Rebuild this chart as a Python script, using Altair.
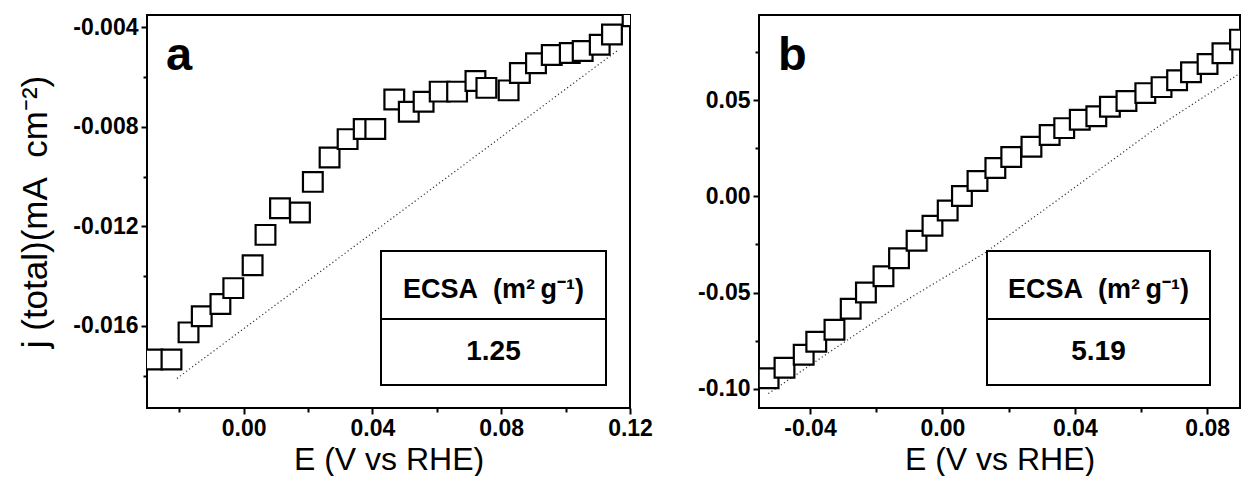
import altair as alt
import pandas as pd

# ---------------- Panel a data ----------------
a_E = [-0.0283, -0.0224, -0.0171, -0.0130, -0.0072, -0.0032, 0.0028, 0.0068,
       0.0113, 0.0175, 0.0215, 0.0267, 0.0323, 0.0373, 0.0409, 0.0468,
       0.0513, 0.0559, 0.0609, 0.0663, 0.0720, 0.0754, 0.0823, 0.0858,
       0.0908, 0.0957, 0.1013, 0.1053, 0.1106, 0.1144, 0.1208]
a_j = [-0.01735, -0.01735, -0.01626, -0.01561, -0.01512, -0.01448, -0.01356, -0.01234,
       -0.01127, -0.01144, -0.01021, -0.00923, -0.00849, -0.00808, -0.00808, -0.00690,
       -0.00739, -0.00699, -0.00658, -0.00658, -0.00615, -0.00643, -0.00653, -0.00583,
       -0.00544, -0.00511, -0.00503, -0.00495, -0.00470, -0.00428, -0.00355]
a_line_E = [-0.0207, 0.0456, 0.1163]
a_line_j = [-0.01811, -0.01172, -0.00491]
a_ecsa = "1.25"

# ---------------- Panel b data ----------------
b_E = [-0.0525, -0.0477, -0.0419, -0.0381, -0.0326, -0.0277, -0.0231, -0.0178,
       -0.0131, -0.0078, -0.0030, 0.0016, 0.0059, 0.0106, 0.0160, 0.0208,
       0.0269, 0.0324, 0.0368, 0.0415, 0.0465, 0.0506, 0.0556, 0.0613,
       0.0662, 0.0709, 0.0751, 0.0801, 0.0846, 0.0899]
b_j = [-0.0945, -0.0891, -0.0823, -0.0756, -0.0693, -0.0584, -0.0500, -0.0415,
       -0.0322, -0.0231, -0.0153, -0.0073, 0.0002, 0.0080, 0.0148, 0.0205,
       0.0258, 0.0319, 0.0355, 0.0398, 0.0417, 0.0466, 0.0496, 0.0537,
       0.0568, 0.0604, 0.0645, 0.0688, 0.0744, 0.0815]
b_line_E = [-0.0526, -0.0114, 0.0128, 0.0650, 0.0896]
b_line_j = [-0.1025, -0.0545, -0.0294, 0.0360, 0.0637]
b_ecsa = "5.19"

# ---------------- Axis ticks ----------------
a_x_ticks = [-0.02, 0.00, 0.02, 0.04, 0.06, 0.08, 0.10, 0.12]
a_y_ticks = [-0.018, -0.016, -0.014, -0.012, -0.010, -0.008, -0.006, -0.004]
b_x_ticks = [-0.04, -0.02, 0.00, 0.02, 0.04, 0.06, 0.08]
b_y_ticks = [-0.10, -0.075, -0.05, -0.025, 0.00, 0.025, 0.05, 0.075]

header_text = "ECSA\u00a0\u00a0(m\u00b2\u2009g\u207b\u00b9)"
x_title = "E (V vs RHE)"
y_title = "j (total)(mA\u00a0 cm\u207b\u00b2)"

FONT = "Liberation Sans"


def major_test(mult):
    return f"abs(datum.value*{mult} - round(datum.value*{mult})) < 1e-6"


def label_expr(mult, dec):
    return (f"{major_test(mult)} ? (datum.value < 0 ? '-' : '') + "
            f"format(abs(datum.value), '.{dec}f') : ''")


def make_axis(vals, mult, dec, title, title_pad, title_size):
    return alt.Axis(
        values=vals,
        labelExpr=label_expr(mult, dec),
        tickSize={"condition": {"test": major_test(mult), "value": 6}, "value": 4},
        tickWidth=2,
        tickColor="black",
        domain=False,
        grid=False,
        labelFont=FONT,
        labelFontSize=23,
        labelFontWeight="bold",
        labelColor="black",
        labelPadding=3,
        labelFlush=False,
        labelOverlap=False,
        title=title,
        titleFont=FONT,
        titleFontSize=title_size,
        titleFontWeight="normal",
        titleColor="black",
        titlePadding=title_pad,
    )


def panel(E, j, lE, lj, ecsa, letter, xdom, ydom, xt, yt, xm, ym, xd, yd,
          ytitle, width, height, box):
    pts = pd.DataFrame({"E": E, "j": j})
    ln = pd.DataFrame({"E": lE, "j": lj})
    ann = pd.DataFrame({"letter": [letter], "ecsa": [ecsa], "header": [header_text]})

    xs = alt.Scale(domain=xdom, nice=False, zero=False)
    ys = alt.Scale(domain=ydom, nice=False, zero=False)
    xenc = alt.X("E:Q", scale=xs, axis=make_axis(xt, xm, xd, x_title, 4, 32))
    yenc = alt.Y("j:Q", scale=ys, axis=make_axis(yt, ym, yd, ytitle, 19, 35))

    bx0, bx1, by0, by1, bdiv, bcx, hy, vy = box

    rect = alt.Chart(ann).mark_rect(fill="white", stroke="black", strokeWidth=2).encode(
        x=alt.value(bx0), x2=alt.value(bx1), y=alt.value(by0), y2=alt.value(by1))
    divider = alt.Chart(ann).mark_rule(stroke="black", strokeWidth=2).encode(
        x=alt.value(bx0), x2=alt.value(bx1), y=alt.value(bdiv))
    head = alt.Chart(ann).mark_text(font=FONT, fontSize=27, fontWeight="bold",
                                    align="center", baseline="middle", color="black").encode(
        x=alt.value(bcx), y=alt.value(hy), text="header:N")
    val = alt.Chart(ann).mark_text(font=FONT, fontSize=28, fontWeight="bold",
                                   align="center", baseline="middle", color="black").encode(
        x=alt.value(bcx), y=alt.value(vy), text="ecsa:N")
    lab = alt.Chart(ann).mark_text(font=FONT, fontSize=47, fontWeight="bold",
                                   align="left", baseline="alphabetic", color="black").encode(
        x=alt.value(19), y=alt.value(55), text="letter:N")

    line = alt.Chart(ln).mark_line(color="#333333", strokeWidth=1.2,
                                   strokeDash=[1.2, 2.6], clip=True).encode(x=xenc, y=yenc)
    sq = alt.Chart(pts).mark_point(shape="square", filled=True, fill="white",
                                   stroke="black", strokeWidth=2.2, size=390,
                                   opacity=1, clip=True).encode(x=xenc, y=yenc)

    return alt.layer(rect, divider, line, sq, head, val, lab).properties(
        width=width, height=height)


pa = panel(a_E, a_j, a_line_E, a_line_j, a_ecsa, "a",
           [-0.030, 0.120], [-0.0193, -0.0035], a_x_ticks, a_y_ticks, 25, 250, 2, 3,
           y_title, 483, 393,
           (234, 459, 236, 370, 304, 346.5, 275, 337))
pb = panel(b_E, b_j, b_line_E, b_line_j, b_ecsa, "b",
           [-0.0554, 0.0899], [-0.110, 0.0943], b_x_ticks, b_y_ticks, 25, 20, 2, 2,
           "", 481, 393,
           (228, 451, 236, 370, 304, 339.5, 275, 337))

chart = alt.hconcat(pa, pb, spacing=129, bounds="flush").properties(
    padding={"left": 17, "top": 14, "right": 0, "bottom": 0},
    background="white",
).configure_view(stroke="black", strokeWidth=2)

chart.save("out.html", embed_options={"renderer": "svg", "actions": False})
